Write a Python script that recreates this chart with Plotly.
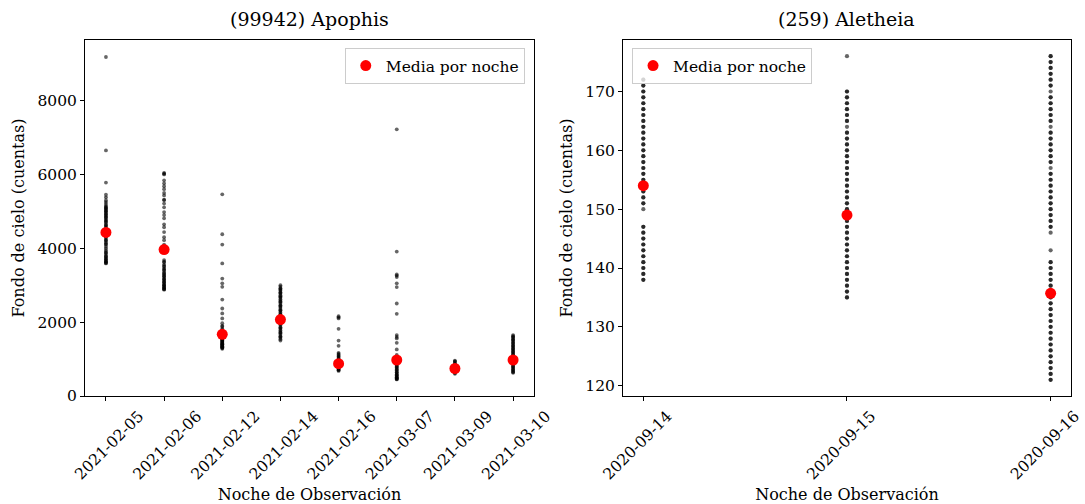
import plotly.graph_objects as go

# --- (99942) Apophis: sky background per frame, grouped by night ---
apophis_nights = ["2021-02-05", "2021-02-06", "2021-02-12", "2021-02-14",
                  "2021-02-16", "2021-03-07", "2021-03-09", "2021-03-10"]

apophis_0205 = [9180, 6650, 5780, 5450, 5380, 5300, 5250, 5200, 5150, 5120, 5080, 5050,
                5000, 4980, 4950, 4900, 4870, 4820, 4780, 4750, 4700, 4650, 4600, 4560,
                4500, 4450, 4400, 4350, 4300, 4250, 4200, 4150, 4100, 4050, 4000, 3950,
                3900, 3850, 3800, 3760, 3720, 3680, 3650, 3620, 3590,
                5100, 5020, 4920, 4840, 4720, 4620, 4520, 4420, 4320, 4220, 4120, 3880,
                3780, 3700, 3640, 3600]
apophis_0206 = [6040, 6000, 5840, 5760, 5680, 5600, 5500, 5430, 5320, 5210, 5110, 4980,
                4900, 4810, 4650, 4570, 4440, 4300, 4220, 4100, 4050, 3680, 3620, 3560,
                3500, 3450, 3400, 3350, 3300, 3260, 3220, 3180, 3140, 3100, 3060, 3020,
                2990, 2960, 2930, 2900, 2880,
                6020, 5300, 4000, 3640, 3520, 3420, 3320, 3240, 3160, 3080, 3000, 2940,
                2890]
apophis_0212 = [5460, 4380, 4100, 3590, 3180, 3050, 2955, 2610, 2370, 2235, 2100, 1970,
                1900, 1875, 1820, 1780, 1740, 1700, 1660, 1620, 1580, 1550, 1520, 1490,
                1460, 1430, 1400, 1380, 1350, 1320, 1300, 1280,
                1640, 1600, 1560, 1530, 1500, 1470, 1440, 1410, 1390, 1360, 1340, 1310]
apophis_0214 = [3000, 2960, 2920, 2880, 2850, 2810, 2770, 2730, 2700, 2660, 2620, 2580,
                2540, 2500, 2460, 2420, 2380, 2340, 2300, 2260, 2220, 2180, 2140, 2100,
                2060, 2020, 1980, 1940, 1900, 1860, 1820, 1780, 1740, 1700, 1660, 1620,
                1580, 1540, 1500,
                2900, 2790, 2680, 2560, 2440, 2320, 2200, 2080, 1960, 1840, 1720, 1600]
apophis_0216 = [2160, 2130, 2100, 1820, 1500, 1360, 1170, 1110, 1060, 1000, 960, 920,
                880, 850, 820, 790, 760, 730, 700, 680,
                1140, 1080, 1030, 980, 940, 900, 860, 830, 800, 770, 740, 710]
apophis_0307 = [7220, 3910, 3290, 3260, 3220, 3050, 2950, 2505, 2225, 1650, 1600, 1560,
                1440, 1260, 1110, 1000, 950, 900, 860, 820, 780, 740, 700, 660, 620, 590,
                560, 530, 500, 470, 450,
                1060, 970, 880, 800, 720, 640, 570, 510, 480, 460]
apophis_0309 = [960, 920, 880, 840, 800, 770, 740, 710, 680, 650, 620, 600,
                940, 860, 780, 720, 660]
apophis_0310 = [1650, 1620, 1580, 1540, 1500, 1460, 1420, 1380, 1340, 1300, 1260, 1220,
                1180, 1140, 1100, 1060, 1020, 980, 940, 900, 860, 820, 780, 740, 700, 660,
                630,
                1600, 1520, 1440, 1360, 1280, 1200, 1120, 1040, 960, 880, 800, 720, 650]
apophis_means = [4430, 3965, 1670, 2070, 875, 975, 745, 975]

# --- (259) Aletheia: integer counts, repeated values overlap ---
aletheia_nights = ["2020-09-14", "2020-09-15", "2020-09-16"]
aletheia_0914 = [138, 139, 140, 141, 142, 143, 144, 145, 146, 147,
                 150, 151, 152, 153, 154, 155, 156, 157, 158, 159, 160, 161, 162, 163,
                 164, 165, 166, 167, 168, 169, 170, 171, 172,
                 138, 139, 140, 141, 142, 143, 144, 145, 146, 147,
                 151, 152, 153, 154, 155, 156, 157, 158, 159, 160, 161, 162, 163,
                 164, 165, 166, 167, 168, 169, 170, 171, 172]
aletheia_0915 = [135, 136, 137, 138, 139, 140, 141, 142, 143, 144, 145, 146, 147, 148,
                 149, 150, 151, 152, 153, 154, 155, 156, 157, 158, 159, 160, 161, 162,
                 163, 164, 165, 166, 167, 168, 169, 170, 176,
                 135, 136, 137, 138, 139, 140, 141, 142, 143, 144, 145, 146, 147, 148,
                 149, 150, 151, 152, 153, 154, 155, 156, 157, 158, 159, 160, 161, 162,
                 163, 165, 166, 167, 168, 169, 170]
aletheia_0916 = [121, 122, 123, 124, 125, 126, 127, 128, 129, 130, 131, 132, 133, 134,
                 135, 136, 137, 138, 139, 140, 141, 143, 146, 147, 148, 149, 150, 151,
                 152, 153, 154, 155, 156, 157, 158, 159, 160, 161, 162, 163, 164, 165,
                 166, 167, 168, 169, 170, 171, 172, 173, 174, 175, 176,
                 121, 122, 123, 124, 125, 126, 127, 128, 129, 130, 131, 132, 133, 134,
                 135, 136, 137, 138, 139, 140, 141, 147, 148, 149, 150, 151,
                 152, 153, 154, 155, 156, 158, 159, 160, 161, 162, 163, 165,
                 166, 167, 168, 169, 171, 172, 173, 174, 175, 176]
aletheia_means = [154.0, 149.0, 135.7]

apophis_series = [apophis_0205, apophis_0206, apophis_0212, apophis_0214,
                  apophis_0216, apophis_0307, apophis_0309, apophis_0310]
aletheia_series = [aletheia_0914, aletheia_0915, aletheia_0916]

FONT = "DejaVu Serif"
fig = go.Figure()


def add_panel(nights, series, means, xa, ya, legend, dot_size):
    xs, ys = [], []
    for night, vals in zip(nights, series):
        xs += [night] * len(vals)
        ys += vals
    fig.add_trace(go.Scatter(
        x=xs, y=ys, mode="markers", xaxis=xa, yaxis=ya, showlegend=False,
        marker=dict(color="black", size=dot_size, opacity=0.6, line=dict(width=0)),
        hoverinfo="skip"))
    fig.add_trace(go.Scatter(
        x=nights, y=means, mode="markers", xaxis=xa, yaxis=ya,
        name="Media por noche", legend=legend,
        marker=dict(color="#ff0000", size=11, line=dict(width=0))))


add_panel(apophis_nights, apophis_series, apophis_means, "x", "y", "legend", 3.8)
add_panel(aletheia_nights, aletheia_series, aletheia_means, "x2", "y2", "legend2", 4.2)

TICK = dict(family=FONT, size=15.5, color="black")
LABEL = dict(family=FONT, size=16, color="black")

axis_common = dict(showgrid=False, zeroline=False, showline=True, linecolor="black",
                   linewidth=1, mirror=True, ticks="outside", ticklen=4,
                   tickcolor="black", tickfont=TICK, automargin=False)

xtitle = dict(text="Noche de Observación", font=LABEL)
ytitle = dict(text="Fondo de cielo (cuentas)", font=LABEL, standoff=8)
legend_style = dict(yanchor="top", bgcolor="rgba(255,255,255,0.8)",
                    bordercolor="#cccccc", borderwidth=1,
                    font=dict(family=FONT, size=15.5, color="black"))

fig.update_layout(
    width=1085, height=504,
    margin=dict(l=85, r=14, t=40, b=108),
    plot_bgcolor="white", paper_bgcolor="white",
    font=dict(family=FONT, color="black"),
    xaxis=dict(domain=[0, 0.4554], type="category", range=[-0.36, 7.36],
               tickangle=-45, ticklabelshift=33, title=xtitle, **axis_common),
    yaxis=dict(range=[0, 9640], tickvals=[0, 2000, 4000, 6000, 8000],
               title=ytitle, **axis_common),
    xaxis2=dict(domain=[0.5456, 1], type="category", range=[-0.1, 2.1],
                tickangle=-45, ticklabelshift=24, title=xtitle, anchor="y2",
                **axis_common),
    yaxis2=dict(range=[118.25, 178.75], tickvals=[120, 130, 140, 150, 160, 170],
                title=ytitle, anchor="x2", **axis_common),
    legend=dict(x=0.446, y=0.9775, xanchor="right", **legend_style),
    legend2=dict(x=0.5548, y=0.9775, xanchor="left", **legend_style),
    annotations=[
        dict(text="(99942) Apophis", x=0.2277, y=1, xref="paper", yref="paper",
             xanchor="center", yanchor="bottom", yshift=8, showarrow=False,
             font=dict(family=FONT, size=19, color="black")),
        dict(text="(259) Aletheia", x=0.7728, y=1, xref="paper", yref="paper",
             xanchor="center", yanchor="bottom", yshift=8, showarrow=False,
             font=dict(family=FONT, size=19, color="black")),
    ],
)

fig.write_html("out.html")
